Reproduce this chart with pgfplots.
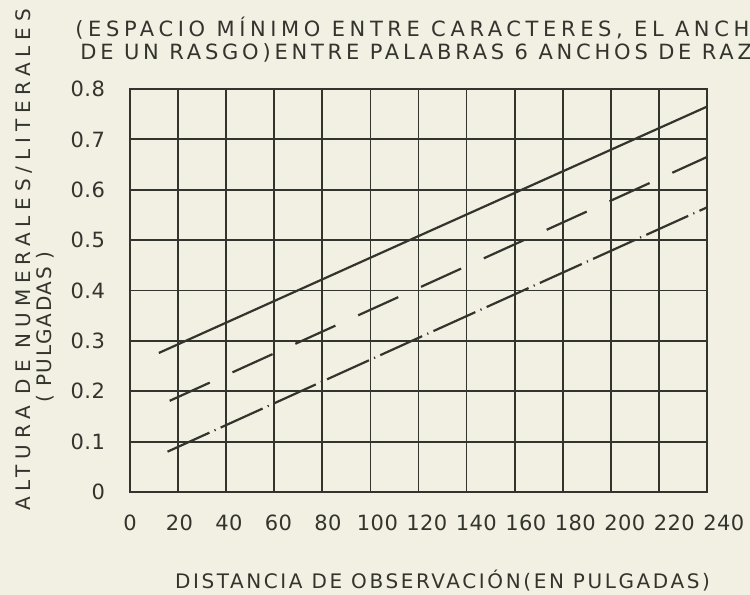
\documentclass[border=0pt]{standalone}
\usepackage{pgfplots}
\pgfplotsset{compat=1.18}
\usepackage{fontspec}
\setmainfont{DejaVu Sans}[LetterSpace=8]
\newfontfamily\titleA{DejaVu Sans}[LetterSpace=22]
\newfontfamily\titleB{DejaVu Sans}[LetterSpace=18]
\newfontfamily\ylab{DejaVu Sans}[LetterSpace=29]
\newfontfamily\xlab{DejaVu Sans}[LetterSpace=13]
\newfontfamily\tickfont{DejaVu Sans}[LetterSpace=2]
\usetikzlibrary{backgrounds}
\definecolor{paper}{RGB}{242,240,226}
\definecolor{ink}{RGB}{52,52,46}
\begin{document}
\begin{tikzpicture}[font=\fontsize{10}{12}\selectfont, text=ink]
\begin{axis}[name=ax, scale only axis, width=288.5pt, height=201.5pt,
  xmin=0, xmax=240, ymin=0, ymax=0.8,
  xtick={0,20,40,60,80,100,120,140,160,180,200,220,240},
  xticklabels={0,\hspace*{1.4pt}20,\hspace*{2.8pt}40,\hspace*{4.2pt}60,\hspace*{5.6pt}80,\hspace*{7pt}100,\hspace*{8.4pt}120,\hspace*{9.8pt}140,\hspace*{11.2pt}160,\hspace*{12.6pt}180,\hspace*{14pt}200,\hspace*{15.4pt}220,\hspace*{16.8pt}240},
  ytick={0,0.1,0.2,0.3,0.4,0.5,0.6,0.7,0.8},
  yticklabels={0,0.1,0.2,0.3,0.4,0.5,0.6,0.7,0.8},
  grid=major, major grid style={draw=ink, line width=0.9pt},
  axis line style={draw=ink, line width=0.9pt},
  major tick length=0pt,
  tick label style={font=\tickfont\fontsize{10.5}{12}\selectfont, text=ink},
  xticklabel style={yshift=-8pt},
  yticklabel style={xshift=-9pt},
  clip=false]
\addplot[draw=ink, line width=1.1pt] coordinates {(12,0.276) (120,0.508) (240,0.765)};
\addplot[draw=ink, line width=1.1pt, dash pattern=on 22pt off 12.5pt] coordinates {(16.5,0.181) (120,0.405) (240,0.665)};
\addplot[draw=ink, line width=1.1pt, dash pattern=on 23pt off 2.8pt on 0.6pt off 2.8pt] coordinates {(15.6,0.08) (120,0.306) (240,0.565)};
\end{axis}
\node[anchor=base west, inner sep=0pt, font=\titleA\fontsize{10.5}{12}\selectfont] at ([xshift=-27.5pt,yshift=26.2pt]ax.north west) {(ESPACIO MÍNIMO ENTRE CARACTERES, EL ANCHO};
\node[anchor=base west, inner sep=0pt, font=\titleB\fontsize{10.5}{12}\selectfont] at ([xshift=-25pt,yshift=14.5pt]ax.north west) {DE UN RASGO)ENTRE PALABRAS 6 ANCHOS DE RAZGO};
\node[rotate=90, inner sep=0pt] at ([xshift=-52.75pt,yshift=-85.5pt]ax.north west) {\ylab ALTURA DE NUMERALES/LITERALES};
\node[rotate=90, inner sep=0pt] at ([xshift=-42.25pt,yshift=-119pt]ax.north west) {( PULGADAS )};
\node[inner sep=0pt] at ([xshift=156.25pt,yshift=-44.25pt]ax.south west) {\xlab DISTANCIA DE OBSERVACIÓN(EN PULGADAS)};
\begin{scope}[on background layer]
\fill[paper] ([xshift=-65pt,yshift=-51.5pt]ax.south west) rectangle ([xshift=21.5pt,yshift=44.5pt]ax.north east);
\end{scope}
\pgfresetboundingbox
\path[use as bounding box] ([xshift=-65pt,yshift=-51.5pt]ax.south west) rectangle ([xshift=21.5pt,yshift=44.5pt]ax.north east);
\end{tikzpicture}
\end{document}
